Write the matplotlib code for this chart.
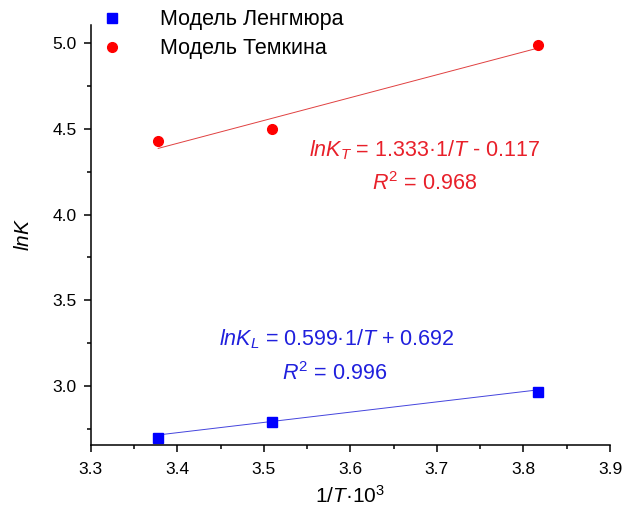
import matplotlib
matplotlib.use("Agg")
import matplotlib.pyplot as plt
import numpy as np
from matplotlib.ticker import MultipleLocator, FormatStrFormatter

plt.rcParams['font.family'] = ['Liberation Sans', 'DejaVu Sans']
plt.rcParams['mathtext.fontset'] = 'custom'
plt.rcParams['mathtext.rm'] = 'Liberation Sans'
plt.rcParams['mathtext.it'] = 'Liberation Sans:italic'

# 1/T·10^3 values and ln K for the two isotherm models
inv_T = [3.378, 3.509, 3.817]
lnK_langmuir = [2.70, 2.79, 2.963]
lnK_temkin = [4.43, 4.50, 4.99]

# linear fit coefficients (slope, intercept)
fit_langmuir = (0.599, 0.692)
fit_temkin = (1.333, -0.117)

legend_labels = ["Модель Ленгмюра", "Модель Темкина"]

fig = plt.figure(figsize=(6.24, 5.11), dpi=100)
ax = fig.add_axes([0.1453, 0.1292, 0.8323, 0.8218])

x_fit = np.array([inv_T[0], inv_T[-1]])
ax.plot(x_fit, fit_langmuir[0] * x_fit + fit_langmuir[1], color='#4444dd', lw=0.7)
ax.plot(x_fit, fit_temkin[0] * x_fit + fit_temkin[1], color='#e04040', lw=0.7)

ax.plot(inv_T, lnK_langmuir, 's', color='#0000ff', ms=6.5, ls='none', label=legend_labels[0])
ax.plot(inv_T, lnK_temkin, 'o', color='#ff0000', ms=7, ls='none', label=legend_labels[1])

ax.set_xlim(3.3, 3.9)
ax.set_ylim(2.657, 5.105)
ax.xaxis.set_major_locator(MultipleLocator(0.1))
ax.xaxis.set_minor_locator(MultipleLocator(0.05))
ax.yaxis.set_major_locator(MultipleLocator(0.5))
ax.yaxis.set_minor_locator(MultipleLocator(0.25))
ax.xaxis.set_major_formatter(FormatStrFormatter('%.1f'))
ax.yaxis.set_major_formatter(FormatStrFormatter('%.1f'))

for side in ('top', 'right'):
    ax.spines[side].set_visible(False)
for side in ('left', 'bottom'):
    ax.spines[side].set_linewidth(1.1)
ax.tick_params(which='major', direction='out', length=5, width=1.1, labelsize=12.5)
ax.tick_params(axis='x', which='major', pad=7)
ax.tick_params(axis='y', which='major', pad=5)
ax.tick_params(which='minor', direction='out', length=3, width=1.1)

ax.set_xlabel(r"$\mathit{1/T}$·10$^3$", fontsize=15, labelpad=6)
ax.set_ylabel(r"$\mathit{lnK}$", fontsize=15, labelpad=14)

leg = ax.legend(loc='upper left', bbox_to_anchor=(0.01, 1.058), frameon=False,
                fontsize=15.5, handletextpad=1.9, labelspacing=0.38,
                borderaxespad=0, handlelength=0.7)

ax.text(3.686, 4.375, r"$\mathit{lnK_T}$ = 1.333·$\mathit{1/T}$ - 0.117",
        color='#e8202a', fontsize=15.5, ha='center', va='center')
ax.text(3.686, 4.18, r"$\mathit{R}^2$ = 0.968",
        color='#e8202a', fontsize=15.5, ha='center', va='center')
ax.text(3.584, 3.275, r"$\mathit{lnK_L}$ = 0.599·$\mathit{1/T}$ + 0.692",
        color='#2020dd', fontsize=15.5, ha='center', va='center')
ax.text(3.582, 3.075, r"$\mathit{R}^2$ = 0.996",
        color='#2020dd', fontsize=15.5, ha='center', va='center')

fig.savefig("out.png", dpi=100)
